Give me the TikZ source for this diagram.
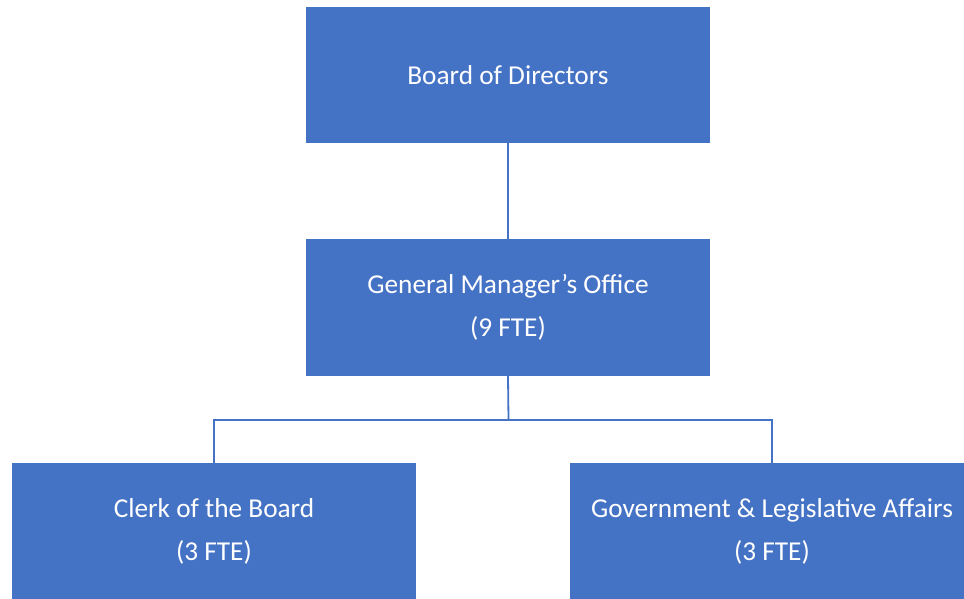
\documentclass[tikz,border=0pt]{standalone}
\usepackage{fontspec}
\setmainfont{Carlito}
\definecolor{boxblue}{HTML}{4472C4}
\begin{document}
\begin{tikzpicture}[x=1pt,y=-1pt,
  orgbox/.style={rectangle, fill=boxblue, draw=none, text=white,
    minimum width=404pt, minimum height=136pt, align=center,
    font=\fontsize{27.3}{43}\selectfont, inner sep=0pt},
  link/.style={draw=boxblue, line width=1.8pt}]
\useasboundingbox (0,0) rectangle (964,599);
\node[orgbox] (board) at (508,75) {Board of Directors};
\node[orgbox, minimum height=137pt] (gm) at (508,307.5) {General Manager’s Office\\(9 FTE)};
\node[orgbox] (clerk) at (214,531) {Clerk of the Board\\(3 FTE)};
\node[orgbox] (gov) at (772,531) {Government \& Legislative Affairs\\(3 FTE)};
\coordinate (bus) at (508.5,420);
\draw[link] (board.south) -- (gm.north);
\draw[link] (gm.south) -- (bus);
\draw[link] (bus) -| (clerk.north);
\draw[link] (bus) -| (gov.north);
\end{tikzpicture}
\end{document}
